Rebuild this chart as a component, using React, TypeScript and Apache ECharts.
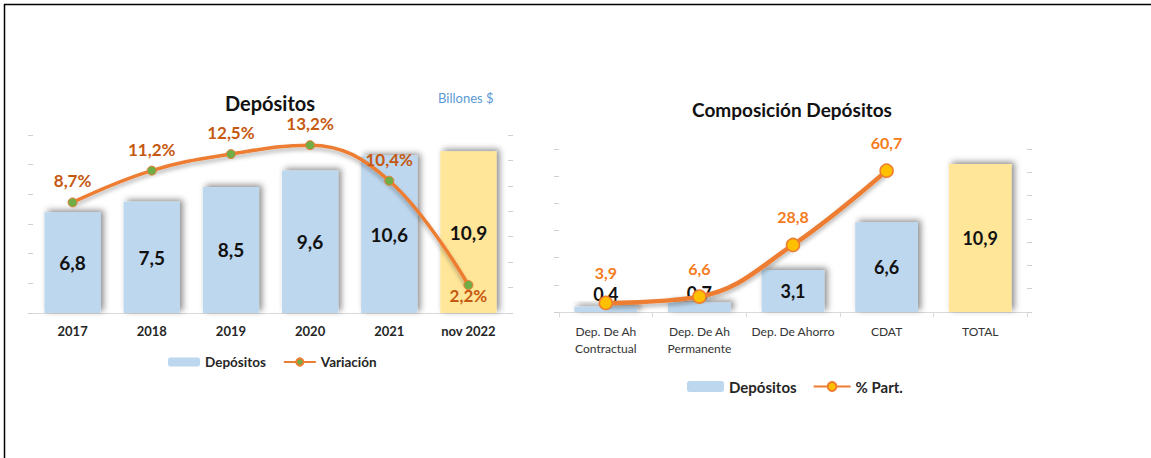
import React, { useEffect, useRef } from "react";
import * as echarts from "echarts";

const years = ["2017", "2018", "2019", "2020", "2021", "nov 2022"];
const depositos = [6.8, 7.5, 8.5, 9.6, 10.6, 10.9];
const variacion = [8.7, 11.2, 12.5, 13.2, 10.4, 2.2];

const compCats = ["Dep. De Ah\nContractual", "Dep. De Ah\nPermanente", "Dep. De Ahorro", "CDAT", "TOTAL"];
const compDepositos = [0.4, 0.7, 3.1, 6.6, 10.9];
const compPart: (number | string)[] = [3.9, 6.6, 28.8, 60.7, "-"];

const FONT = "Lato, 'Open Sans', sans-serif";
const BLUE = "#BDD7EE";
const YELLOW = "#FFE699";
const ORANGE = "#ED7D31";
const TICK = "#d0d0d0";

const fmt = (v: any) => Number(v).toFixed(1).replace(".", ",");

export default function App() {
  const ref = useRef<HTMLDivElement>(null);
  useEffect(() => {
    if (!ref.current) return;
    const chart = echarts.init(ref.current, null, { renderer: "svg" });
    const barShadow = {
      shadowBlur: 6,
      shadowColor: "rgba(0,0,0,0.45)",
      shadowOffsetX: 3,
      shadowOffsetY: -2,
    };
    const hiddenVal = (min: number, max: number, interval: number, gridIndex: number, position: string) => ({
      type: "value",
      gridIndex,
      position,
      min,
      max,
      interval,
      axisLine: { show: false },
      axisTick: { show: true, length: 5, lineStyle: { color: TICK } },
      axisLabel: { show: false },
      splitLine: { show: false },
    });
    const option: any = {
      animation: false,
      backgroundColor: "#ffffff",
      textStyle: { fontFamily: FONT },
      graphic: [
        { type: "line", shape: { x1: 4, y1: 4.5, x2: 1151, y2: 4.5 }, style: { stroke: "#000", lineWidth: 1.5 } },
        { type: "line", shape: { x1: 4.5, y1: 4, x2: 4.5, y2: 458 }, style: { stroke: "#000", lineWidth: 1.5 } },
        {
          type: "text",
          x: 270,
          y: 103,
          style: { text: "Depósitos", fontFamily: FONT, fontWeight: "bold", fontSize: 20, fill: "#111", textAlign: "center", textVerticalAlign: "middle" },
        },
        {
          type: "text",
          x: 438,
          y: 98,
          style: { text: "Billones $", fontFamily: FONT, fontSize: 13, fill: "#5B9BD5", textAlign: "left", textVerticalAlign: "middle" },
        },
        {
          type: "text",
          x: 792,
          y: 109,
          style: { text: "Composición Depósitos", fontFamily: FONT, fontWeight: "bold", fontSize: 19, fill: "#111", textAlign: "center", textVerticalAlign: "middle" },
        },
      ],
      legend: [
        {
          left: 163,
          top: 350,
          itemWidth: 32,
          itemHeight: 9,
          itemGap: 17,
          data: ["Depósitos", "Variación"],
          textStyle: { fontFamily: FONT, fontWeight: "bold", fontSize: 13.5, color: "#262626" },
        },
        {
          left: 682,
          top: 374,
          itemWidth: 37,
          itemHeight: 11,
          itemGap: 16,
          data: ["Depósitos", "% Part."],
          textStyle: { fontFamily: FONT, fontWeight: "bold", fontSize: 15, color: "#262626" },
        },
      ],
      grid: [
        { left: 33, right: 643, top: 135, bottom: 145 },
        { left: 559, right: 124, top: 149, bottom: 146 },
      ],
      xAxis: [
        {
          type: "category",
          gridIndex: 0,
          data: years,
          axisLine: { show: true, lineStyle: { color: "#d9d9d9", width: 1 } },
          axisTick: { show: false },
          axisLabel: { interval: 0, fontFamily: FONT, fontWeight: "bold", fontSize: 13, color: "#262626", margin: 11 },
        },
        {
          type: "category",
          gridIndex: 1,
          data: compCats,
          axisLine: { show: true, lineStyle: { color: "#d9d9d9", width: 1 } },
          axisTick: { show: true, length: 5, lineStyle: { color: "#d9d9d9" } },
          axisLabel: { interval: 0, fontFamily: FONT, fontSize: 12, color: "#333333", margin: 11, lineHeight: 17 },
        },
      ],
      yAxis: [
        hiddenVal(0, 12, 2, 0, "left"),
        hiddenVal(0, 14, 2, 0, "right"),
        hiddenVal(0, 12, 2, 1, "left"),
        hiddenVal(0, 70, 10, 1, "right"),
      ],
      series: [
        {
          name: "Depósitos",
          type: "bar",
          xAxisIndex: 0,
          yAxisIndex: 0,
          barCategoryGap: "29%",
          itemStyle: { color: BLUE, ...barShadow },
          data: depositos.map((v, i) => (i === depositos.length - 1 ? { value: v, itemStyle: { color: YELLOW } } : v)),
          label: {
            show: true,
            position: "inside",
            fontFamily: FONT,
            fontWeight: "bold",
            fontSize: 19,
            color: "#111",
            formatter: (p: any) => fmt(p.value),
          },
          z: 2,
        },
        {
          name: "Variación",
          type: "line",
          xAxisIndex: 0,
          yAxisIndex: 1,
          smooth: 0.4,
          data: variacion.map((v, i) =>
            i === variacion.length - 1 ? { value: v, label: { position: "bottom", distance: -2 } } : v
          ),
          symbol: "circle",
          symbolSize: 9,
          lineStyle: { color: ORANGE, width: 3.5, shadowBlur: 4, shadowColor: "rgba(0,0,0,0.3)", shadowOffsetY: 3 },
          itemStyle: { color: "#70AD47", borderColor: ORANGE, borderWidth: 1 },
          label: {
            show: true,
            position: "top",
            distance: 9,
            fontFamily: FONT,
            fontWeight: "bold",
            fontSize: 17,
            lineHeight: 15,
            color: "#C65911",
            formatter: (p: any) => fmt(p.value) + "%",
          },
          z: 3,
        },
        {
          name: "Depósitos",
          type: "bar",
          xAxisIndex: 1,
          yAxisIndex: 2,
          barCategoryGap: "33%",
          itemStyle: { color: BLUE, ...barShadow },
          data: compDepositos.map((v, i) => {
            if (i === compDepositos.length - 1) return { value: v, itemStyle: { color: YELLOW } };
            if (i === 0) return { value: v, label: { position: "top", distance: 6 } };
            if (i === 1) return { value: v, label: { position: "top", distance: 2 } };
            return v;
          }),
          label: {
            show: true,
            position: "inside",
            fontFamily: FONT,
            fontWeight: "bold",
            fontSize: 18,
            lineHeight: 14,
            color: "#111",
            formatter: (p: any) => fmt(p.value),
          },
          z: 2,
        },
        {
          name: "% Part.",
          type: "line",
          xAxisIndex: 1,
          yAxisIndex: 3,
          smooth: 0.4,
          data: compPart.map((v, i) => (i === 0 ? { value: v, label: { distance: 16 } } : v)),
          symbol: "circle",
          symbolSize: 13,
          lineStyle: { color: ORANGE, width: 4.5, shadowBlur: 4, shadowColor: "rgba(0,0,0,0.3)", shadowOffsetY: 3 },
          itemStyle: { color: "#FFC000", borderColor: ORANGE, borderWidth: 1.5 },
          label: {
            show: true,
            position: "top",
            distance: 14,
            fontFamily: FONT,
            fontWeight: "bold",
            fontSize: 16,
            lineHeight: 14,
            color: "#F47B20",
            formatter: (p: any) => fmt(p.value),
          },
          z: 3,
        },
      ],
    };
    chart.setOption(option);
    return () => chart.dispose();
  }, []);
  return (
    <div
      ref={ref}
      style={{ position: "fixed", left: 0, top: 0, width: 1151, height: 458, background: "#fff" }}
    />
  );
}
